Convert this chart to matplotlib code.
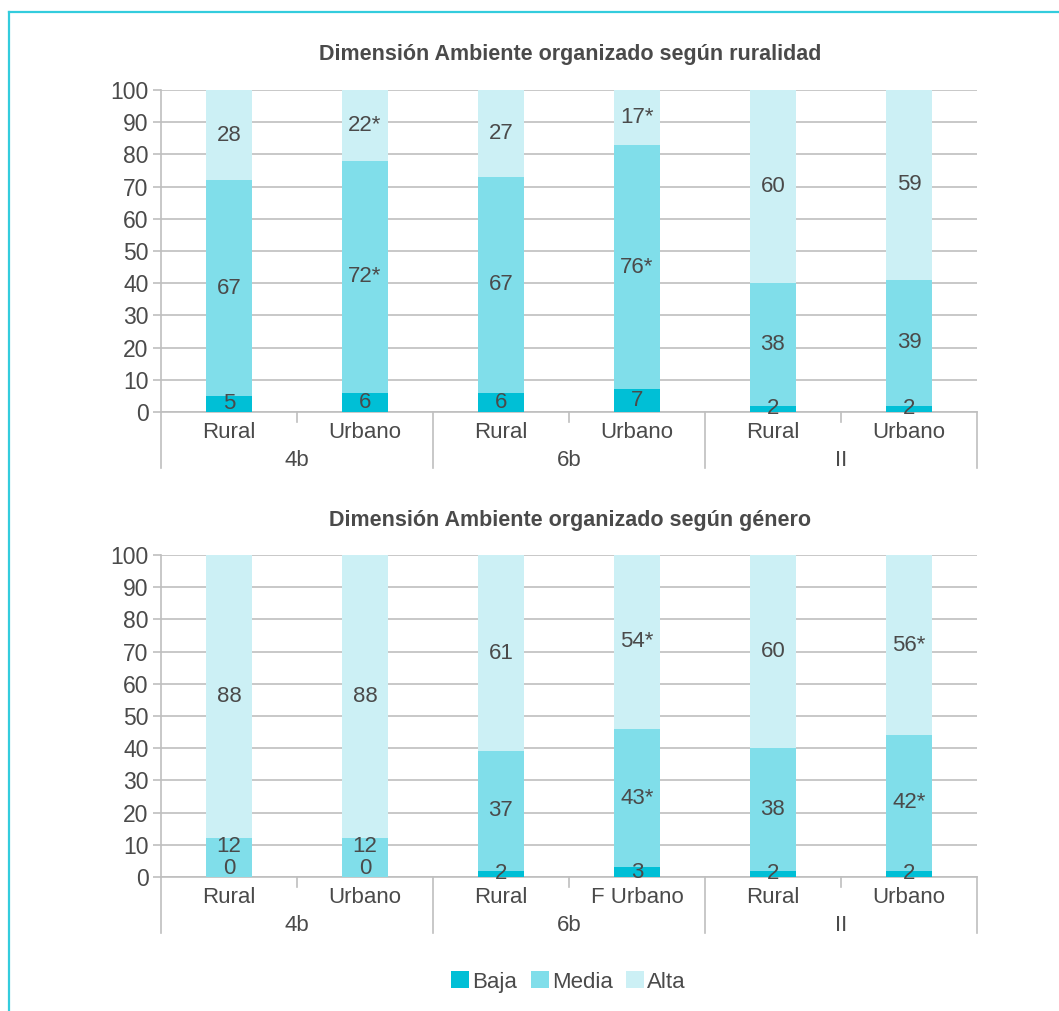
import matplotlib
matplotlib.use("Agg")
import matplotlib.pyplot as plt
from matplotlib.lines import Line2D
from matplotlib.patches import Patch

plt.rcParams['font.family'] = ['Liberation Sans', 'DejaVu Sans']

# categories
subgroups_top = ["Rural", "Urbano", "Rural", "Urbano", "Rural", "Urbano"]
subgroups_bot = ["Rural", "Urbano", "Rural", "F Urbano", "Rural", "Urbano"]
groups = ["4b", "6b", "II"]
series_names = ["Baja", "Media", "Alta"]

# ruralidad
top_baja = [5, 6, 6, 7, 2, 2]
top_media = [67, 72, 67, 76, 38, 39]
top_alta = [28, 22, 27, 17, 60, 59]
top_media_sig = [False, True, False, True, False, False]
top_alta_sig = [False, True, False, True, False, False]

# genero
bot_baja = [0, 0, 2, 3, 2, 2]
bot_media = [12, 12, 37, 43, 38, 42]
bot_alta = [88, 88, 61, 54, 60, 56]
bot_media_sig = [False, False, False, True, False, True]
bot_alta_sig = [False, False, False, True, False, True]

colors = ["#00bfd6", "#80deea", "#ccf0f5"]
text_c = "#4a4a4a"
grid_c = "#bfbfbf"
border_c = "#33ccdd"

fig = plt.figure(figsize=(10.59, 10.11), dpi=100)
fig.patch.set_facecolor("white")

# frame (left and top edges)
fig.add_artist(Line2D([9 / 1059, 9 / 1059], [0, 1 - 12 / 1011], color=border_c, lw=1.6,
                      transform=fig.transFigure))
fig.add_artist(Line2D([9 / 1059, 1], [1 - 12 / 1011, 1 - 12 / 1011], color=border_c, lw=1.6,
                      transform=fig.transFigure))


def draw_panel(ax, baja, media, alta, media_sig, alta_sig, labels):
    x = list(range(len(baja)))
    width = 0.34
    bottoms_m = baja
    bottoms_a = [b + m for b, m in zip(baja, media)]
    ax.bar(x, baja, width, color=colors[0], zorder=3)
    ax.bar(x, media, width, bottom=bottoms_m, color=colors[1], zorder=3)
    ax.bar(x, alta, width, bottom=bottoms_a, color=colors[2], zorder=3)

    for i in x:
        # baja labels
        if baja[i] == 0:
            ax.text(i, -0.5, str(baja[i]), ha="center", va="bottom", fontsize=16, color=text_c, zorder=4)
        else:
            ax.text(i, baja[i] / 2, str(baja[i]), ha="center", va="center", fontsize=16,
                    color=text_c, zorder=4)
        ym = baja[i] + media[i] / 2 + (3.5 if baja[i] == 0 else 0)
        ax.text(i, ym, str(media[i]) + ("*" if media_sig[i] else ""), ha="center", va="center",
                fontsize=16, color=text_c, zorder=4)
        ya = bottoms_a[i] + alta[i] / 2
        ax.text(i, ya, str(alta[i]) + ("*" if alta_sig[i] else ""), ha="center", va="center",
                fontsize=16, color=text_c, zorder=4)

    ax.set_xlim(-0.5, len(x) - 0.5)
    ax.set_ylim(0, 100)
    ax.set_yticks(range(0, 101, 10))
    ax.yaxis.grid(True, color=grid_c, lw=1.2, zorder=0)
    ax.set_axisbelow(True)
    for s in ["top", "right", "bottom"]:
        ax.spines[s].set_visible(False)
    ax.spines["left"].set_color(grid_c)
    ax.spines["left"].set_linewidth(1.2)
    ax.tick_params(axis="y", length=6, width=1.2, color=grid_c, labelsize=16.5, labelcolor=text_c, pad=3)
    ax.set_xticks([])

    tr = ax.get_xaxis_transform()
    ax.plot([-0.5, len(x) - 0.5], [0, 0], color=grid_c, lw=1.2, transform=tr, clip_on=False, zorder=2)
    for sep in [-0.5, 1.5, 3.5, 5.5]:
        ax.plot([sep, sep], [0, -0.174], color=grid_c, lw=1.2, transform=tr, clip_on=False)
    for mid in [0.5, 2.5, 4.5]:
        ax.plot([mid, mid], [0, -0.03], color=grid_c, lw=1.2, transform=tr, clip_on=False)
    for i, lab in enumerate(labels):
        ax.text(i, -0.064, lab, ha="center", va="center", fontsize=16, color=text_c, transform=tr)
    for g, name in enumerate(groups):
        ax.text(2 * g + 0.5, -0.150, name, ha="center", va="center", fontsize=16, color=text_c,
                transform=tr)


ax1 = fig.add_axes([0.1520, 0.5925, 0.7705, 0.3185])
draw_panel(ax1, top_baja, top_media, top_alta, top_media_sig, top_alta_sig, subgroups_top)

ax2 = fig.add_axes([0.1520, 0.1326, 0.7705, 0.3185])
draw_panel(ax2, bot_baja, bot_media, bot_alta, bot_media_sig, bot_alta_sig, subgroups_bot)

fig.text(0.538, 0.9462, "Dimensión Ambiente organizado según ruralidad", ha="center", va="center",
         fontsize=15.5, fontweight="bold", color=text_c)
fig.text(0.538, 0.4852, "Dimensión Ambiente organizado según género", ha="center", va="center",
         fontsize=15.5, fontweight="bold", color=text_c)

handles = [Patch(facecolor=c, edgecolor="none") for c in colors]
fig.legend(handles, series_names, loc="center", bbox_to_anchor=(0.537, 0.0287), ncol=3, frameon=False,
           fontsize=16, labelcolor=text_c, handlelength=0.8, handleheight=0.8, handletextpad=0.15,
           columnspacing=0.6)

fig.savefig("out.png", dpi=100, facecolor="white")
